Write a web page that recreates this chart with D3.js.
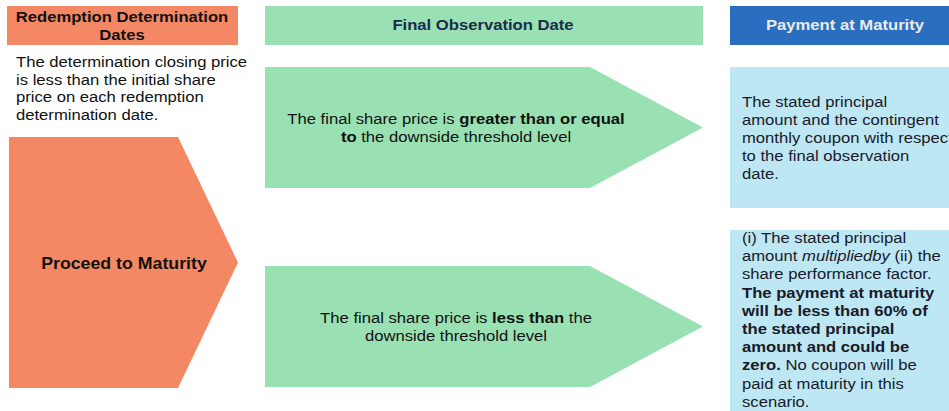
<!DOCTYPE html>
<html>
<head>
<meta charset="utf-8">
<script src="https://cdn.jsdelivr.net/npm/d3@7"></script>
<style>
  body { margin: 0; background: #fff; }
  svg { display: block; font-family: "Liberation Sans", Arial, sans-serif; }
</style>
</head>
<body>
<div id="container"></div>
<script>
// column headings
const headers = [
  ["Redemption Determination", "Dates"],
  ["Final Observation Date"],
  ["Payment at Maturity"]
];

// text segments: [text, style]  (n = normal, b = bold, i = italic)
const conditionText = [
  [["The determination closing price", "n"]],
  [["is less than the initial share", "n"]],
  [["price on each redemption", "n"]],
  [["determination date.", "n"]]
];
const proceedText = [[["Proceed to Maturity", "b"]]];

const scenarioText = [
  [
    [["The final share price is ", "n"], ["greater than or equal", "b"]],
    [["to", "b"], [" the downside threshold level", "n"]]
  ],
  [
    [["The final share price is ", "n"], ["less than", "b"], [" the", "n"]],
    [["downside threshold level", "n"]]
  ]
];

const paymentText = [
  [
    [["The stated principal", "n"]],
    [["amount and the contingent", "n"]],
    [["monthly coupon with respect", "n"]],
    [["to the final observation", "n"]],
    [["date.", "n"]]
  ],
  [
    [["(i) The stated principal", "n"]],
    [["amount ", "n"], ["multiplied", "i"], ["by", "i"], [" (ii) the", "n"]],
    [["share performance factor.", "n"]],
    [["The payment at maturity", "b"]],
    [["will be less than 60% of", "b"]],
    [["the stated principal", "b"]],
    [["amount and could be", "b"]],
    [["zero.", "b"], [" No coupon will be", "n"]],
    [["paid at maturity in this", "n"]],
    [["scenario.", "n"]]
  ]
];

const width = 949;
const height = 411;

const orange = "#f48865";
const green = "#99e1b3";
const blue = "#2a6ebf";
const lightBlue = "#bde7f3";

const svg = d3.select("#container")
  .append("svg")
  .attr("width", width)
  .attr("height", height);

// column positions
const x = d3.scaleOrdinal().domain([0, 1, 2]).range([7, 265, 730]);
const colW = [231, 438, 230];

// the source text is a bit wider than Arial
const stretch = 1.11;

// write lines of segments
function writeLines(lines, x0, y0, step, anchor, color, size) {
  const t = svg.append("text")
    .attr("transform", `translate(${x0},0) scale(${stretch},1)`)
    .attr("text-anchor", anchor)
    .attr("font-size", size || 15)
    .attr("fill", color || "#111");
  lines.forEach((segs, i) => {
    segs.forEach((s, j) => {
      const ts = t.append("tspan").text(s[0])
        .attr("font-weight", s[1] === "b" ? "bold" : null)
        .attr("font-style", s[1] === "i" ? "italic" : null);
      if (j === 0) ts.attr("x", 0).attr("y", y0 + i * step);
    });
  });
  return t;
}

// headers
const headFill = [orange, green, blue];
const headColor = ["#111", "#1c2b4d", "#eaeaea"];
headers.forEach((h, i) => {
  svg.append("rect")
    .attr("x", x(i)).attr("y", 6)
    .attr("width", colW[i]).attr("height", 39)
    .attr("fill", headFill[i]);
  const cx = i === 0 ? 122 : i === 1 ? 483 : 845;
  const y0 = h.length > 1 ? 22 : 30;
  writeLines(h.map(s => [[s, "b"]]), cx, y0, 18, "middle", headColor[i]);
});

// condition text
writeLines(conditionText, 16, 67, 17.7, "start");

// pentagon arrow shape
const arrow = (x0, y0, w, h, tipX) => d3.line()([
  [x0, y0], [x0 + w, y0], [tipX, y0 + h / 2], [x0 + w, y0 + h], [x0, y0 + h]
]) + "Z";

svg.append("path")
  .attr("d", arrow(9, 137, 169, 251, 238))
  .attr("fill", orange);
writeLines(proceedText, 124, 269, 18, "middle", "#111", 16);

// scenario arrows
const scenY = [67, 266];
scenarioText.forEach((lines, i) => {
  svg.append("path")
    .attr("d", arrow(x(1), scenY[i], 325, 121, 703))
    .attr("fill", green);
  writeLines(lines, 456, scenY[i] + 57, 18.5, "middle");
});

// payment boxes
const payY = [67, 230];
const payH = [141, 181];
const payText0 = [107, 243];
const payStep = [18, 18.2];
paymentText.forEach((lines, i) => {
  svg.append("rect")
    .attr("x", x(2)).attr("y", payY[i])
    .attr("width", colW[2]).attr("height", payH[i])
    .attr("fill", lightBlue);
  writeLines(lines, 742, payText0[i], payStep[i], "start", "#1a1a2a");
});
</script>
</body>
</html>
